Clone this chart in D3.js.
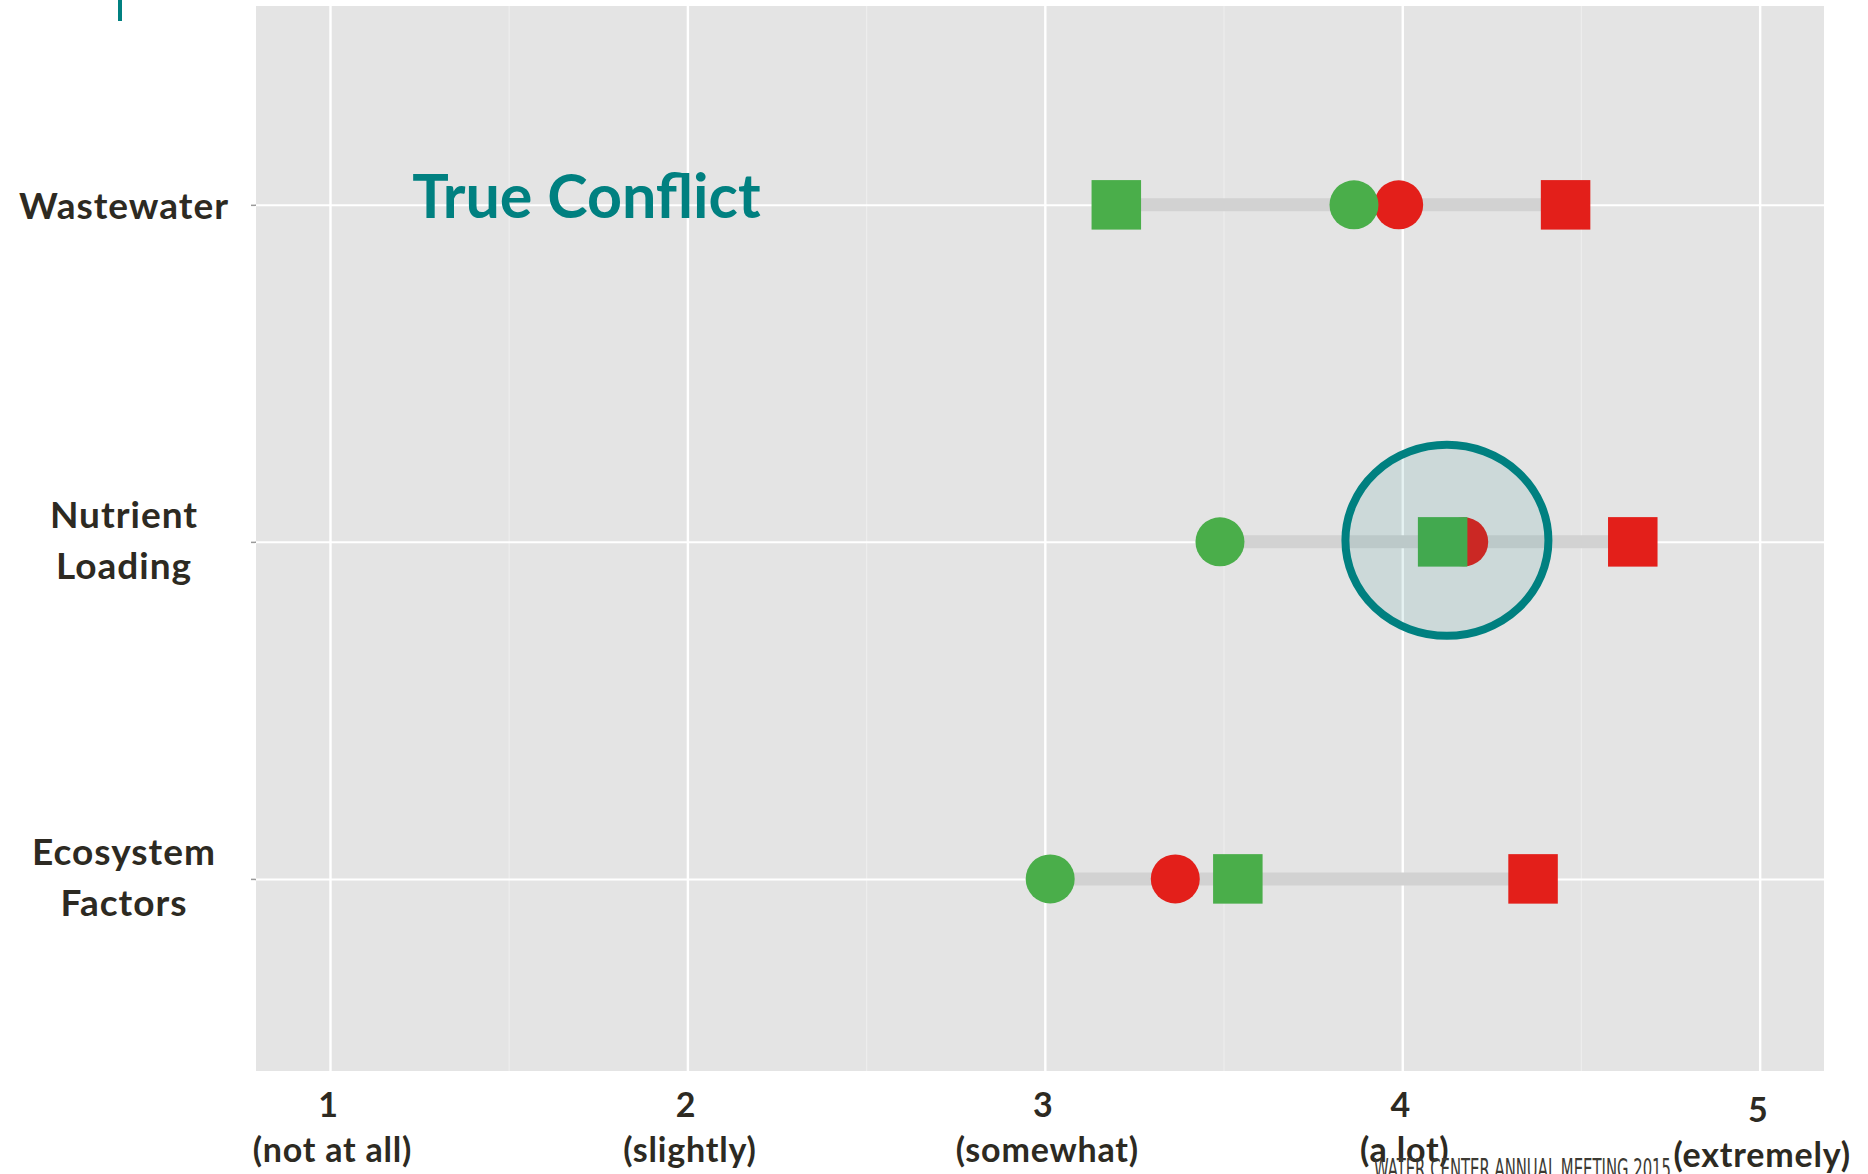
<!DOCTYPE html>
<html><head><meta charset="utf-8">
<script src="https://cdn.jsdelivr.net/npm/d3@7"></script>
<style>
html,body{margin:0;padding:0;background:#fff;}
svg{display:block;}
</style></head><body>
<svg id="chart" width="1868" height="1174"></svg>
<script>
// ---- data ----
const categories = ["Wastewater", "Nutrient Loading", "Ecosystem Factors"];
const categoryLines = [["Wastewater"], ["Nutrient", "Loading"], ["Ecosystem", "Factors"]];
const greenCircle = [3.865, 3.49, 3.015];
const redCircle   = [3.99, 4.172, 3.365];
const greenSquare = [3.20, 4.113, 3.54];
const redSquare   = [4.457, 4.645, 4.366];
const tickValues  = [1, 2, 3, 4, 5];
const tickNumbers = ["1", "2", "3", "4", "5"];
const tickWords   = ["(not at all)", "(slightly)", "(somewhat)", "(a lot)", "(extremely)"];
const minorTicks  = [1.5, 2.5, 3.5, 4.5];
const highlightCategory = "Nutrient Loading";
const highlightValue = 4.125;
const annotationText = "True Conflict";
const annotationValue = 1.23;
const footerText = "WATER CENTER ANNUAL MEETING 2015";

// ---- layout ----
const W = 1868, H = 1174;
const P = {left: 256, top: 6, right: 1824, bottom: 1071};
const TEXT = "#2d2a22", TEAL = "#008080", GREEN = "#4aae4a", RED = "#e31f1a";
const FONT = "Lato, 'Open Sans', sans-serif";

const svg = d3.select("#chart");
svg.append("rect").attr("width", W).attr("height", H).attr("fill", "#fff");

const x = d3.scaleLinear().domain([0.793, 5.18]).range([P.left, P.right]);
const yIdx = d3.scaleLinear().domain([0.41, 3.57]).range([P.top, P.bottom]);
const y = c => yIdx(categories.indexOf(c) + 1);

// decorative teal tick top-left
svg.append("rect").attr("x", 118).attr("y", 0).attr("width", 4).attr("height", 21).attr("fill", TEAL);

// panel
svg.append("rect").attr("x", P.left).attr("y", P.top)
  .attr("width", P.right - P.left).attr("height", P.bottom - P.top).attr("fill", "#e4e4e4");

const panelH = P.bottom - P.top, panelW = P.right - P.left;

// minor grid
svg.append("g").attr("transform", `translate(0,${P.bottom})`)
  .call(d3.axisBottom(x).tickValues(minorTicks).tickSize(-panelH).tickFormat(""))
  .call(g => g.select(".domain").remove())
  .call(g => g.selectAll("line").attr("stroke", "#ededed").attr("stroke-width", 1.2));

// major grid vertical
svg.append("g").attr("transform", `translate(0,${P.bottom})`)
  .call(d3.axisBottom(x).tickValues(tickValues).tickSize(-panelH).tickFormat(""))
  .call(g => g.select(".domain").remove())
  .call(g => g.selectAll("line").attr("stroke", "#ffffff").attr("stroke-width", 2.4));

// major grid horizontal
svg.append("g").attr("transform", `translate(${P.left},0)`)
  .call(d3.axisLeft(yIdx).tickValues([1, 2, 3]).tickSize(-panelW).tickFormat(""))
  .call(g => g.select(".domain").remove())
  .call(g => g.selectAll("line").attr("stroke", "#ffffff").attr("stroke-width", 2));

// y axis ticks + labels
const yAxis = svg.append("g").attr("transform", `translate(${P.left},0)`)
  .call(d3.axisLeft(yIdx).tickValues([1, 2, 3]).tickSize(5).tickPadding(0).tickFormat((d, i) => categories[i]))
  .call(g => g.select(".domain").remove());
yAxis.selectAll("line").attr("stroke", "#9a9a9a").attr("stroke-width", 1.5);
yAxis.selectAll("text").each(function(d, i) {
  const t = d3.select(this);
  const lines = categoryLines[i];
  const base = lines.length === 1 ? 14 : 11;
  t.text(null).attr("x", null).attr("dy", null)
    .attr("text-anchor", "middle")
    .attr("font-family", FONT).attr("font-weight", 700).attr("font-size", 37)
    .attr("letter-spacing", 1)
    .attr("fill", TEXT);
  lines.forEach((ln, j) => {
    t.append("tspan").attr("x", 124 - P.left)
      .attr("y", base + (j - (lines.length - 1) / 2) * 51)
      .text(ln);
  });
});

// x axis labels
const xAxis = svg.append("g").attr("transform", `translate(0,${P.bottom})`)
  .call(d3.axisBottom(x).tickValues(tickValues).tickSize(0).tickFormat((d, i) => tickNumbers[i]))
  .call(g => g.select(".domain").remove());
xAxis.selectAll("text").each(function(d, i) {
  const t = d3.select(this);
  const shift = i === tickValues.length - 1 ? 5 : 0;
  t.text(null).attr("y", null).attr("dy", null)
    .attr("text-anchor", "middle")
    .attr("font-family", FONT).attr("font-weight", 700).attr("font-size", 34)
    .attr("letter-spacing", 0.8)
    .attr("fill", TEXT);
  t.append("tspan").attr("x", -2).attr("y", 46 + shift).text(tickNumbers[i]);
  t.append("tspan").attr("x", 2).attr("y", 91 + shift).text(tickWords[i]);
});

// segments
const rows = categories.map((c, i) => ({
  cat: c,
  lo: Math.min(greenCircle[i], redCircle[i], greenSquare[i], redSquare[i]),
  hi: Math.max(greenCircle[i], redCircle[i], greenSquare[i], redSquare[i])
}));
svg.append("g").selectAll("line").data(rows).join("line")
  .attr("x1", d => x(d.lo)).attr("x2", d => x(d.hi))
  .attr("y1", d => y(d.cat)).attr("y2", d => y(d.cat))
  .attr("stroke", "#d2d2d2").attr("stroke-width", 13);

const R = 24.5, S = 49.5;
function circles(vals, color) {
  svg.append("g").selectAll("circle").data(vals).join("circle")
    .attr("cx", d => x(d)).attr("cy", (d, i) => y(categories[i])).attr("r", R)
    .attr("fill", color);
}
function squares(vals, color) {
  svg.append("g").selectAll("rect").data(vals).join("rect")
    .attr("x", d => x(d) - S / 2).attr("y", (d, i) => y(categories[i]) - S / 2)
    .attr("width", S).attr("height", S).attr("fill", color);
}
circles(redCircle, RED);
circles(greenCircle, GREEN);
squares(redSquare, RED);
squares(greenSquare, GREEN);

// highlight ring
svg.append("ellipse")
  .attr("cx", x(highlightValue)).attr("cy", y(highlightCategory) - 1.5)
  .attr("rx", 101.5).attr("ry", 95.5)
  .attr("fill", TEAL).attr("fill-opacity", 0.1)
  .attr("stroke", TEAL).attr("stroke-width", 8);

// annotation
svg.append("text")
  .attr("x", x(annotationValue)).attr("y", y(categories[0]) + 13)
  .attr("font-family", FONT).attr("font-weight", 700).attr("font-size", 61)
  .attr("fill", TEAL).text(annotationText);

// footer
svg.append("text")
  .attr("x", 1374).attr("y", 1178)
  .attr("font-family", "'Liberation Sans Narrow', 'DejaVu Sans Condensed', sans-serif")
  .attr("font-size", 26)
  .attr("textLength", 297).attr("lengthAdjust", "spacingAndGlyphs")
  .attr("fill", "#3c3a33").text(footerText);
</script>
</body></html>
